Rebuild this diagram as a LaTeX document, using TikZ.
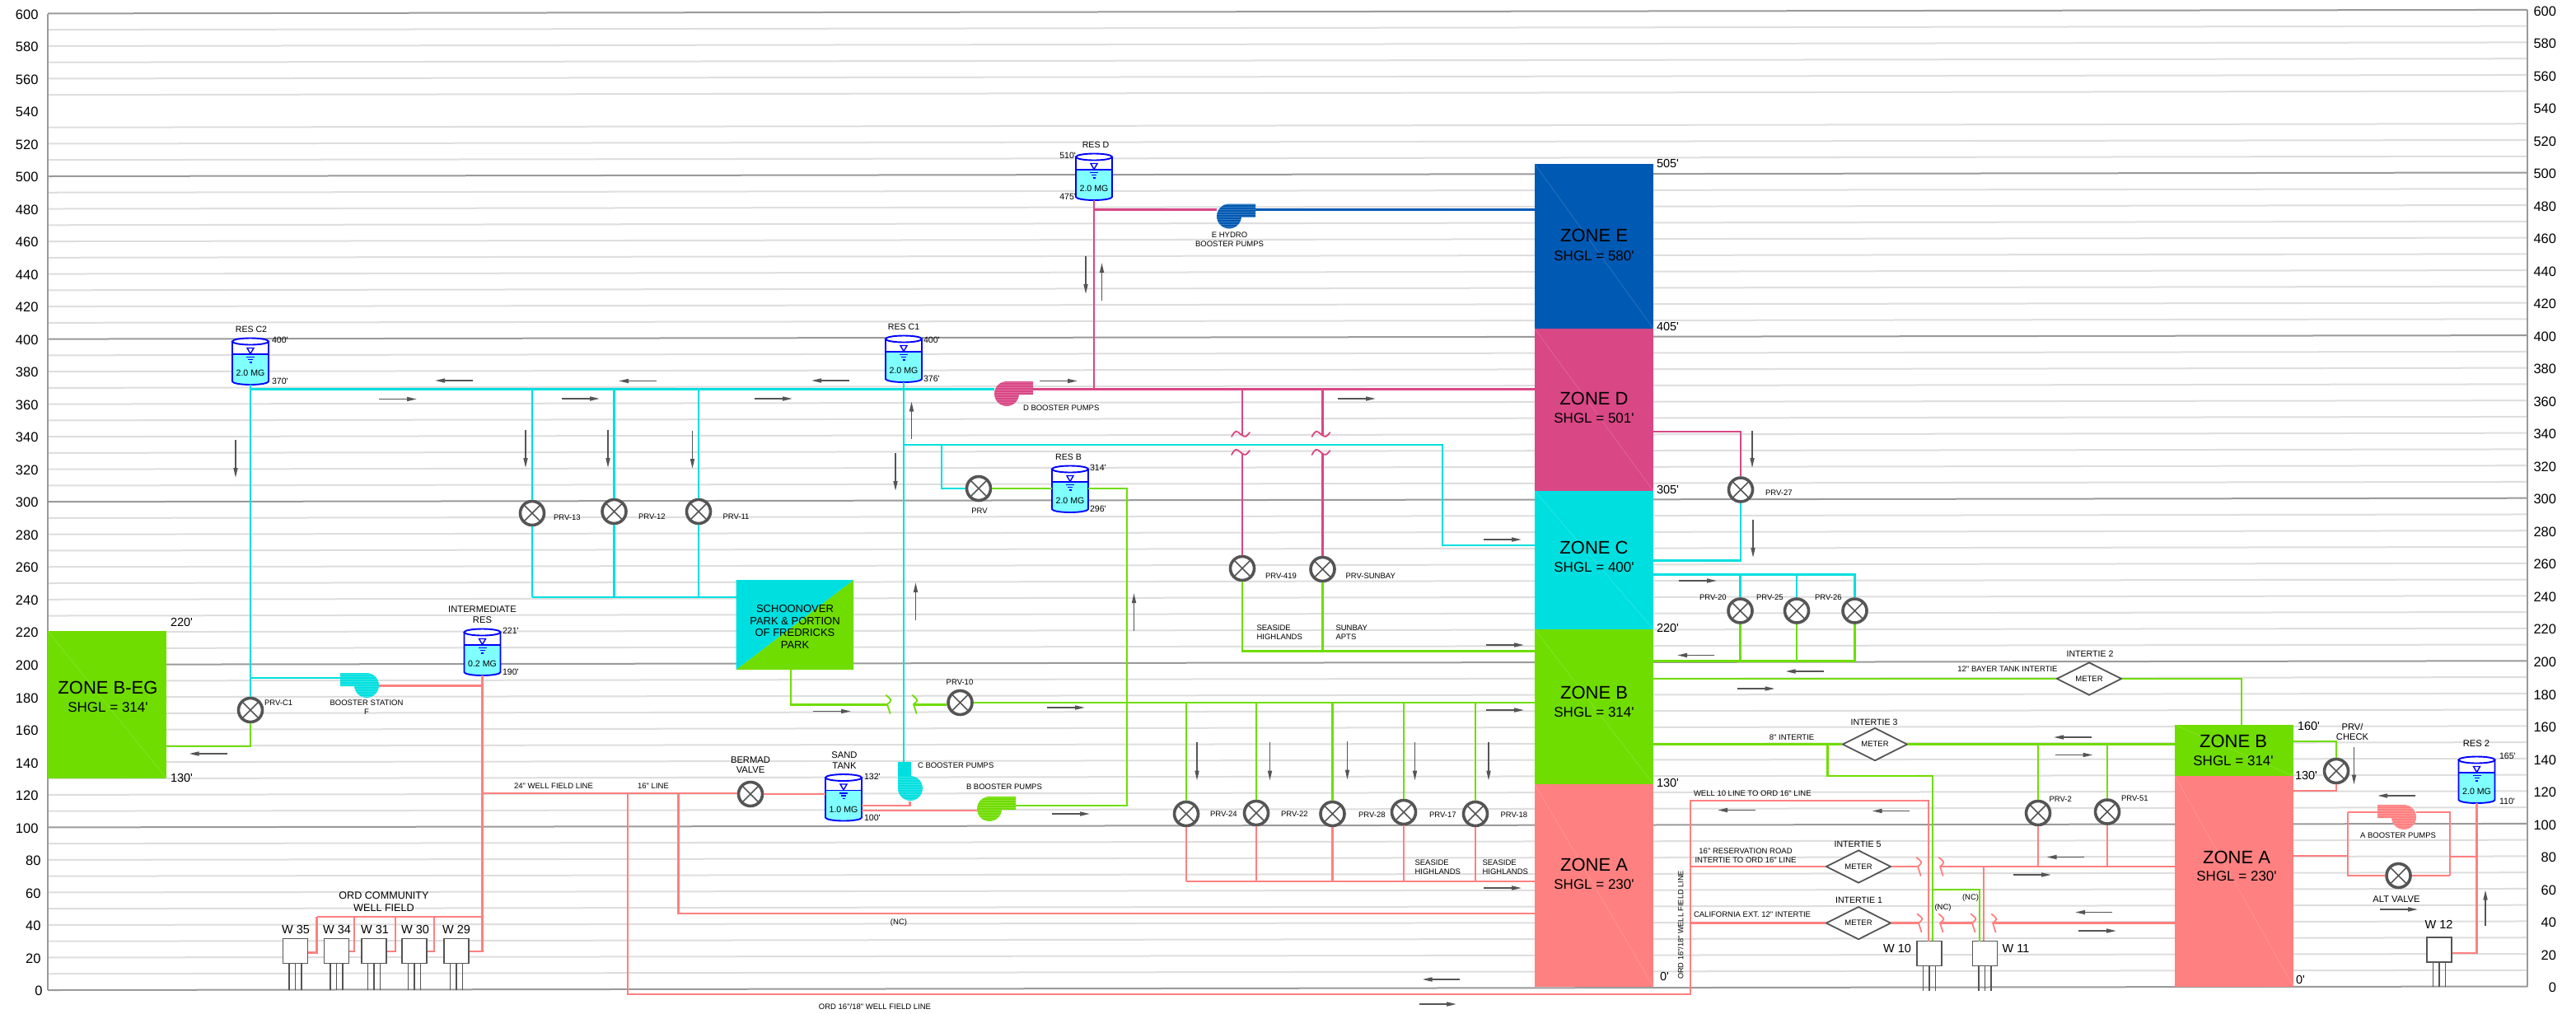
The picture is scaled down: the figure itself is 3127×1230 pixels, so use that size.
\documentclass[tikz,border=0pt]{standalone}
\usepackage{fontspec}
\setmainfont{Liberation Sans}
\usetikzlibrary{arrows.meta,shapes.geometric,fit}
\definecolor{cC}{HTML}{00DFDF}
\definecolor{cB}{HTML}{6FDD00}
\definecolor{cA}{HTML}{FF8080}
\definecolor{cD}{HTML}{D94785}
\definecolor{cE}{HTML}{0059B3}
\definecolor{gridL}{HTML}{DEDEDE}
\definecolor{gridD}{HTML}{9A9A9A}
\definecolor{gy}{HTML}{555555}
\definecolor{water}{HTML}{7FFFFF}
\newcommand\ft{\textquotesingle}
\newcommand\inch{\textquotedbl}
\newcounter{lc}
\tikzset{
  lbl/.style={inner sep=0pt,outer sep=0pt,text=black},
  sA/.style={font=\fontsize{9.5bp}{11bp}\selectfont},
  sB/.style={font=\fontsize{10.6bp}{12bp}\selectfont},
  sC/.style={font=\fontsize{11.2bp}{13bp}\selectfont},
  sD/.style={font=\fontsize{12.6bp}{14bp}\selectfont},
  sW/.style={font=\fontsize{14.5bp}{16bp}\selectfont},
  sE/.style={font=\fontsize{14.5bp}{16bp}\selectfont},
  sS/.style={font=\fontsize{17bp}{19bp}\selectfont},
  sZ/.style={font=\fontsize{22bp}{24bp}\selectfont},
  lw/.style={anchor=west},
  le/.style={anchor=east},
  pipe/.style={line width=2.3bp,line join=miter},
  pC/.style={pipe,draw=cC},
  pB/.style={pipe,draw=cB},
  pA/.style={pipe,draw=cA},
  pD/.style={pipe,draw=cD},
  pE/.style={pipe,draw=cE},
  flow/.style={draw=gy,line width=1.6bp,-{Triangle[length=12bp,width=5bp]}},
  valve/.style={circle,draw=gy,fill=white,line width=3.6bp,minimum size=29bp,inner sep=0pt,
    path picture={\draw[gy,line width=1.6bp] (path picture bounding box.north west)--(path picture bounding box.south east)
    (path picture bounding box.north east)--(path picture bounding box.south west);}},
  meter/.style={diamond,aspect=2,draw=gy,fill=white,line width=1.8bp,minimum width=79bp,minimum height=40bp,inner sep=0pt,
    font=\fontsize{9.5bp}{11bp}\selectfont},
  wellbox/.style={rectangle,draw=gy,fill=white,line width=1.6bp,minimum width=30bp,minimum height=30bp,inner sep=0pt},
  zone/.style={rectangle,inner sep=0pt,outer sep=0pt},
  brk/.style={line width=1.8bp,line cap=round}
}
\newcommand\lab[4][]{\stepcounter{lc}\node[lbl,#1] (lab\arabic{lc}) at (#2,#3) {#4};}
\newcommand\fl[4]{\draw[flow] (#1,#2) -- (#3,#4);}
\newcommand\mkWell[4]{% name cx top legbottom
  \draw[gy,line width=1.3bp] (#2-7.5,#3+29) -- (#2-7.5,#4) (#2,#3+29) -- (#2,#4) (#2+7.5,#3+29) -- (#2+7.5,#4);
  \node[wellbox] (#1) at (#2,#3+15) {};}
\newcommand\mkTank[4]{% name cx top text
  \begin{scope}[shift={(#2,#3)}]
  \path[fill=white] (-22,4.5) -- (-22,20) -- (22,20) -- (22,4.5) -- cycle;
  \path[fill=water] (-22,20) -- (-22,53) arc[x radius=22,y radius=4,start angle=180,end angle=0] -- (22,20) -- cycle;
  \draw[blue,line width=1.9bp] (-22,4.5) -- (-22,53) arc[x radius=22,y radius=4,start angle=180,end angle=0] -- (22,4.5);
  \draw[blue,line width=1.9bp,fill=white] (0,4.5) ellipse [x radius=22,y radius=4];
  \draw[blue,line width=1.9bp] (-22,20) -- (22,20);
  \draw[blue,line width=1.4bp] (-4,12.5) -- (4,12.5) -- (0,19.5) -- cycle;
  \draw[blue,line width=1.3bp] (-5,23.5) -- (5,23.5) (-3,26.5) -- (3,26.5) (-1.5,30) -- (1.5,30);
  \end{scope}
  \node[fit={(#2-22,#3)(#2+22,#3+57)},inner sep=0pt,outer sep=0pt] (#1) {};
  \lab[sB]{#2}{#3+43}{#4}}
\newcommand\pumpshape{(32,-15) -- (0,-15) arc[radius=15,start angle=270,end angle=0] -- (15,1) -- (32,1) -- cycle}
\newcommand\mkPump[9]{% name cx cy rot xs color bx1/by1 bx2/by2
  \begin{scope}[shift={(#2,#3)},rotate=#4,xscale=#5]
  \fill[#6] \pumpshape;
  \begin{scope}
  \clip \pumpshape;
  \foreach \s in {-14,-11,...,16} {\draw[white,opacity=.22,line width=.7bp,rotate=-#4] (-40,\s) -- (40,\s);}
  \end{scope}
  \end{scope}
  \node[fit={(#7)(#8)},inner sep=0pt,outer sep=0pt] (#9) {};}
\newcommand\brkH[3]{\draw[brk,#3] (#1-1.5,#2-11) .. controls (#1+6,#2-5) .. (#1,#2) .. controls (#1+1,#2+6) .. (#1+3.5,#2+11);}
\newcommand\brkV[3]{\draw[brk,#3] (#1-12,#2+2) .. controls (#1-7,#2-6) .. (#1,#2) .. controls (#1+5,#2+3) .. (#1+10,#2-3);}
\begin{document}
\begin{tikzpicture}[x=1bp,y=-1bp]
\useasboundingbox (0,0) rectangle (3127,1230);
\fill[white] (0,0) rectangle (3127,1230);
% ---------- elevation grid
\foreach \e in {0,10,...,600}{
  \pgfmathsetmacro\yy{1202-\e*1.976}
  \pgfmathsetmacro\hund{int(mod(\e,100))}
  \ifnum\e=540\else
  \ifnum\hund=0
    \draw[gridD,line width=2bp] (58,\yy) -- (3068,\yy-4.5);
  \else
    \draw[gridL,line width=2bp] (58,\yy) -- (3068,\yy-4.5);
  \fi\fi
}
\draw[gridD,line width=1.5bp] (58,16.5) -- (58,1202);
\draw[gridD,line width=1.5bp] (3068,12) -- (3068,1197.5);
\foreach \e in {0,20,...,600}{
  \pgfmathsetmacro\yy{1203-\e*1.976}
  \pgfmathsetmacro\yr{1199-\e*1.976}
  \pgfmathsetmacro\xl{\e<100?(\e<10?51.5:49.5):46.5}
  \stepcounter{lc}\node[lbl,sS,font=\fontsize{16.5bp}{18bp}\selectfont,anchor=east] (lab\arabic{lc}) at (\xl,\yy) {\e};
  \stepcounter{lc}\node[lbl,sS,font=\fontsize{16.5bp}{18bp}\selectfont,anchor=east] (lab\arabic{lc}) at (3103,\yr) {\e};
}
% ---------- zones
\node[zone,fill=cE,fit={(1863,199)(2007,399)}] (zoneE) {};
\node[zone,fill=cD,fit={(1863,399)(2007,596)}] (zoneD) {};
\node[zone,fill=cC,fit={(1863,596)(2007,764)}] (zoneC) {};
\node[zone,fill=cB,fit={(1863,764)(2007,952)}] (zoneB) {};
\node[zone,fill=cA,fit={(1863,952)(2007,1198)}] (zoneA) {};
\node[zone,fill=cB,fit={(58,766)(202,945)}] (zoneBEG) {};
\node[zone,fill=cB,fit={(2640,880)(2784,942)}] (zoneBr) {};
\node[zone,fill=cA,fit={(2640,942)(2784,1198)}] (zoneAr) {};
\foreach \n in {zoneE,zoneD,zoneC,zoneB,zoneA,zoneBEG,zoneBr,zoneAr}{
  \draw[white,opacity=.22,line width=.5bp] (\n.north west) -- (\n.south east);}
% schoonover
\node[zone,fit={(893.5,704)(1036,813)}] (schoon) {};
\fill[cB] (schoon.south west) -- (schoon.north east) -- (schoon.south east) -- cycle;
\fill[cC] (schoon.south west) -- (schoon.north east) -- (schoon.north west) -- cycle;
% ---------- equipment nodes
\mkTank{resCtwo}{304}{410}{2.0 MG}
\mkTank{resCone}{1097}{407}{2.0 MG}
\mkTank{resD}{1328}{186}{2.0 MG}
\mkTank{resB}{1299}{565}{2.0 MG}
\mkTank{intres}{585.5}{763}{0.2 MG}
\mkTank{sand}{1024}{939.5}{1.0 MG}
\mkTank{restwo}{3006.5}{918}{2.0 MG}
\mkPump{pumpF}{445}{832}{0}{-1}{cC}{413,817}{460,847}{pumpF}
\mkPump{pumpE}{1492}{262.5}{0}{1}{cE}{1477,247}{1524,278}{pumpE}
\mkPump{pumpD}{1222}{478}{0}{1}{cD}{1207,463}{1254,493}{pumpD}
\mkPump{pumpC}{1105}{957}{90}{1}{cC}{1090,925}{1120,973}{pumpC}
\mkPump{pumpB}{1201}{982}{0}{1}{cB}{1186,967}{1233,997}{pumpB}
\mkPump{pumpA}{2918}{992}{0}{-1}{cA}{2887,977}{2933,1007}{pumpA}
\node[valve] (prvCone) at (304,862) {};
\node[valve] (prvXIII) at (646,623) {};
\node[valve] (prvXII) at (745.5,621) {};
\node[valve] (prvXI) at (848,621) {};
\node[valve] (prvB) at (1188,593) {};
\node[valve] (prvCDXIX) at (1508,690) {};
\node[valve] (prvSun) at (1605.5,691) {};
\node[valve] (prvX) at (1165.5,853) {};
\node[valve] (prvXXIV) at (1440,988) {};
\node[valve] (prvXXII) at (1525,987) {};
\node[valve] (prvXXVIII) at (1617.5,988) {};
\node[valve] (prvXVII) at (1704,986) {};
\node[valve] (prvXVIII) at (1791,988) {};
\node[valve] (prvXXVII) at (2113,594.5) {};
\node[valve] (prvXX) at (2112.5,741.5) {};
\node[valve] (prvXXV) at (2181,741.5) {};
\node[valve] (prvXXVI) at (2251.5,741.5) {};
\node[valve] (prvII) at (2474,987) {};
\node[valve] (prvLI) at (2558,985.5) {};
\node[valve] (prvCk) at (2836,936) {};
\node[valve] (altv) at (2911.5,1063) {};
\node[valve] (bermad) at (911,964) {};
\node[meter] (mII) at (2536,824) {METER};
\node[meter] (mIII) at (2276,903.6) {METER};
\node[meter] (mV) at (2256,1052) {METER};
\node[meter] (mI) at (2256,1120.6) {METER};
\mkWell{wA}{358.5}{1139.5}{1202}
\mkWell{wB}{408.5}{1139.5}{1202}
\mkWell{wC}{454}{1139.5}{1202}
\mkWell{wD}{503}{1139.5}{1202}
\mkWell{wE}{554}{1139.5}{1202}
\mkWell{wX}{2342}{1142.5}{1203}
\mkWell{wY}{2409.5}{1142.5}{1203}
\mkWell{wZ}{2961}{1138}{1198}
% ---------- junction coordinates
\coordinate (mainC) at (304,472.5);
\coordinate (jF) at (304,823);
\coordinate (bl) at (646,725);
\coordinate (cr) at (1751,540);
\coordinate (cl) at (1097,540);
\coordinate (cp) at (1143,540);
\coordinate (cz) at (1751,662);
\coordinate (zcA) at (2113,680.6);
\coordinate (zdA) at (2113,524);
\coordinate (cT) at (2251.5,697.4);
\coordinate (gT) at (2251.5,802.6);
\coordinate (pu) at (1328,254.6);
\coordinate (bAu) at (1508,528);
\coordinate (bAl) at (1508,550);
\coordinate (bBu) at (1605.5,528);
\coordinate (bBl) at (1605.5,550);
\coordinate (gM) at (1508,790.6);
\coordinate (gR) at (1368,978);
\coordinate (gEG) at (304,906);
\coordinate (gSa) at (960,813);
\coordinate (gSb) at (960,855.5);
\coordinate (gSc) at (1078,855.5);
\coordinate (gSd) at (1110,855.5);
\coordinate (gTop) at (2721,880);
\coordinate (gIa) at (2218.5,903.6);
\coordinate (gIb) at (2346,942);
\coordinate (gIc) at (2346,1080);
\coordinate (gId) at (2403,1142.5);
\coordinate (gCk) at (2836,900);
\coordinate (aCk) at (2836,960);
\coordinate (aF) at (460,832.5);
\coordinate (aW) at (585.5,1155);
\coordinate (aWt) at (585.5,1113);
\coordinate (aWa) at (384.5,1113);
\coordinate (aWb) at (430,1113);
\coordinate (aWc) at (480,1113);
\coordinate (aWd) at (527,1113);
\coordinate (aWs) at (384.5,1156.6);
\coordinate (aL) at (585.5,963);
\coordinate (aN) at (823.4,963);
\coordinate (aNb) at (823.4,1109);
\coordinate (aO) at (762,963);
\coordinate (aOb) at (762,1207);
\coordinate (aOc) at (2052,1207);
\coordinate (aOd) at (2052,972);
\coordinate (aOe) at (2341,1142.5);
\coordinate (aS) at (1104.5,978);
\coordinate (aSb) at (1045,984);
\coordinate (aV) at (1863,1070);
\coordinate (aRa) at (2052,1052);
\coordinate (aRb) at (2328,1052);
\coordinate (aRc) at (2355,1052);
\coordinate (aRd) at (2408,1052);
\coordinate (aCa) at (2052,1120.6);
\coordinate (aCb) at (2329,1120.6);
\coordinate (aCc) at (2355,1120.6);
\coordinate (aCd) at (2394,1120.6);
\coordinate (aCe) at (2419,1120.6);
\coordinate (aBa) at (2850,1039);
\coordinate (aBb) at (2850,986);
\coordinate (aBc) at (2850,1063);
\coordinate (aBd) at (2974,1063);
\coordinate (aBe) at (2974,1040);
\coordinate (aBf) at (3006.5,1040);
\coordinate (aBg) at (3006.5,1157);
% ---------- cyan pipes
\draw[pC] (resCtwo.south) -- (prvCone.north);
\draw[pC] (mainC) -- (pumpD.west |- mainC);
\draw[pC] (jF) -- (pumpF.west |- jF);
\foreach \v in {prvXIII,prvXII,prvXI}{
  \draw[pC] (\v.north |- mainC) -- (\v.north);
  \draw[pC] (\v.south) -- (\v.south |- bl);}
\draw[pC] (bl) -- (schoon.west |- bl);
\draw[pC] (resCone.south) -- (resCone.south |- pumpC.north);
\draw[pC] (cl) -- (cr) -- (cz) -- (zoneC.west |- cz);
\draw[pC] (cp) |- (prvB.west);
\draw[pC] (zoneC.east |- zcA) -- (zcA) -- (prvXXVII.south);
\draw[pC] (zoneC.east |- cT) -- (cT) -- (prvXXVI.north);
\draw[pC] (prvXX.north |- cT) -- (prvXX.north);
\draw[pC] (prvXXV.north |- cT) -- (prvXXV.north);
% ---------- pink pipes
\draw[pD] (pumpD.east |- mainC) -- (zoneD.west |- mainC);
\draw[pD] (resD.south) -- (resD.south |- mainC);
\draw[pD] (pu) -- (pumpE.west |- pu);
\draw[pD] (prvCDXIX.north |- mainC) -- (bAu);
\draw[pD] (bAl) -- (prvCDXIX.north);
\draw[pD] (prvSun.north |- mainC) -- (bBu);
\draw[pD] (bBl) -- (prvSun.north);
\brkV{1507}{528}{cD}\brkV{1507}{550}{cD}
\brkV{1604.5}{528}{cD}\brkV{1604.5}{550}{cD}
\draw[pD] (zoneD.east |- zdA) -- (zdA) -- (prvXXVII.north);
% ---------- blue pipe
\draw[pE] (pumpE.east |- pu) -- (zoneE.west |- pu);
% ---------- green pipes
\draw[pB] (prvCone.south) -- (gEG) -- (zoneBEG.east |- gEG);
\draw[pB] (gSa) -- (gSb) -- (gSc);
\draw[pB] (gSd) -- (prvX.west |- gSd);
\brkH{1077}{855}{cB}\brkH{1109}{855}{cB}
\draw[pB] (prvX.east) -- (zoneB.west |- prvX);
\draw[pB] (prvB.east) -- (resB.west |- prvB);
\draw[pB] (resB.east |- prvB) -| (gR) -- (pumpB.east |- gR);
\draw[pB] (prvCDXIX.south) -- (gM) -- (zoneB.west |- gM);
\draw[pB] (prvSun.south) -- (prvSun.south |- gM);
\foreach \v in {prvXXIV,prvXXII,prvXXVIII,prvXVII,prvXVIII}{
  \draw[pB] (\v.north |- prvX) -- (\v.north);
  \draw[pA] (\v.south) -- (\v.south |- aV);}
\draw[pA] (prvXXIV.south |- aV) -- (aV);
\draw[pB] (prvXXVI.south) -- (gT) -- (zoneB.east |- gT);
\draw[pB] (prvXX.south) -- (prvXX.south |- gT);
\draw[pB] (prvXXV.south) -- (prvXXV.south |- gT);
\draw[pB] (zoneB.east |- mII) -- (mII.west);
\draw[pB] (mII.east) -| (gTop);
\draw[pB] (zoneB.east |- mIII) -- (mIII.west);
\draw[pB] (mIII.east) -- (zoneBr.west |- mIII);
\draw[pA] (aOe) -- (aOe |- aOd) -- (aOd) -- (aOc) -- (aOb) -- (aO);
\draw[pB] (gIa) |- (gIb) -- (gIb |- wX.north);
\draw[pB] (gIc) -| (gId);
\draw[pB] (prvII.north |- mIII) -- (prvII.north);
\draw[pB] (prvLI.north |- mIII) -- (prvLI.north);
\draw[pB] (zoneBr.east |- gCk) -- (gCk) -- (prvCk.north);
% ---------- salmon pipes
\draw[pA] (prvCk.south) -- (aCk) -- (zoneAr.east |- aCk);
\draw[pA] (pumpF.east |- aF) -- (intres.south |- aF);
\draw[pA] (intres.south) -- (aW) -- (wE.east |- aW);
\draw[pA] (aWa) -- (aWt);
\draw[pA] (wA.east |- aWs) -| (aWa);
\draw[pA] (wB.east |- aW) -| (aWb);
\draw[pA] (wC.east |- aW) -| (aWc);
\draw[pA] (wD.east |- aW) -| (aWd);
\draw[pA] (aL) -- (bermad.west |- aL);
\draw[pA] (bermad.east) -- (sand.west |- bermad);
\draw[pA] (aN) -- (aNb) -- (zoneA.west |- aNb);
\draw[pA] (sand.east |- aS) -- (aS) -- (aS |- pumpC.south);
\draw[pA] (sand.east |- aSb) -- (pumpB.west |- aSb);
\draw[pA] (aRa) -- (mV.west);
\draw[pA] (mV.east) -- (aRb);
\draw[pA] (aRc) -- (zoneAr.west |- aRc);
\draw[pA] (aRd) -- (aRd |- wY.north);
\brkH{2328}{1052}{cA}\brkH{2355}{1052}{cA}
\draw[pA] (aCa) -- (mI.west);
\draw[pA] (mI.east) -- (aCb);
\draw[pA] (aCc) -- (aCd);
\draw[pA] (aCe) -- (zoneAr.west |- aCe);
\brkH{2329}{1120.6}{cA}\brkH{2355}{1120.6}{cA}
\brkH{2394}{1120.6}{cA}\brkH{2419}{1120.6}{cA}
\draw[pA] (prvII.south) -- (prvII.south |- aRa);
\draw[pA] (prvLI.south) -- (prvLI.south |- aRa);
\draw[pA] (zoneAr.east |- aBa) -- (aBa);
\draw[pA] (aBb) -- (aBc) -- (altv.west);
\draw[pA] (altv.east) -- (aBd);
\draw[pA] (aBb) -- (pumpA.west |- aBb);
\draw[pA] (pumpA.east |- aBb) -| (aBd);
\draw[pA] (aBe) -- (aBf);
\draw[pA] (restwo.south) -- (aBg) -- (wZ.east |- aBg);
% ---------- flow arrows
\fl{574}{462}{528}{462}\fl{797}{462.5}{751}{462.5}\fl{1031}{462}{985}{462}
\fl{460}{484.5}{506}{484.5}\fl{682}{484}{728}{484}\fl{916}{484}{962}{484}
\fl{286}{534}{286}{580}\fl{638}{522}{638}{568}\fl{738}{522}{738}{568}\fl{840.5}{523}{840.5}{569}
\fl{275.5}{915}{229.5}{915}\fl{987}{863.5}{1033}{863.5}
\fl{1262}{462.5}{1308}{462.5}\fl{1318}{311}{1318}{357}\fl{1337.5}{365}{1337.5}{319}
\fl{1624}{484}{1670}{484}\fl{1106.5}{533}{1106.5}{487.5}\fl{1087}{550}{1087}{596}
\fl{1801}{655}{1847}{655}\fl{1111.5}{753}{1111.5}{707}\fl{1376.5}{766}{1376.5}{720}
\fl{1804}{783}{1850}{783}\fl{1271}{859}{1317}{859}\fl{1804}{862}{1850}{862}\fl{1277}{988}{1323}{988}
\fl{1453}{901}{1453}{947.5}\fl{1541.5}{901}{1541.5}{947.5}\fl{1635.5}{900}{1635.5}{946.5}
\fl{1717.5}{901}{1717.5}{947.5}\fl{1807}{901}{1807}{947.5}
\fl{1801}{1078}{1847}{1078}\fl{1771.5}{1189}{1726.5}{1189}\fl{1722.5}{1219}{1768}{1219}
\fl{2038}{705}{2084}{705}\fl{2081}{795.5}{2036}{795.5}
\fl{2127}{523}{2127}{568}\fl{2128}{631}{2128}{677}
\fl{2213.5}{815}{2167.5}{815}\fl{2108.5}{836}{2154.5}{836}
\fl{2538.5}{895}{2493}{895}\fl{2494.5}{916.5}{2540.5}{916.5}
\fl{2857.5}{907}{2857.5}{952.5}\fl{2932}{966}{2886}{966}
\fl{2131}{983.5}{2085}{983.5}\fl{2318}{984.5}{2272.5}{984.5}
\fl{2530}{1040.5}{2484.5}{1040.5}\fl{2444}{1062}{2490}{1062}
\fl{2564}{1107.5}{2519}{1107.5}\fl{2523}{1130}{2569}{1130}
\fl{2889}{1104}{2935}{1104}\fl{3017}{1124}{3017}{1080.5}
% ---------- zone labels
\lab[sZ]{1935}{286}{ZONE E}\lab[sS]{1935}{311}{SHGL = 580\ft}
\lab[sZ]{1935}{484}{ZONE D}\lab[sS]{1935}{508}{SHGL = 501\ft}
\lab[sZ]{1935}{665}{ZONE C}\lab[sS]{1935}{689}{SHGL = 400\ft}
\lab[sZ]{1935}{841}{ZONE B}\lab[sS]{1935}{865}{SHGL = 314\ft}
\lab[sZ]{1935}{1050}{ZONE A}\lab[sS]{1935}{1074}{SHGL = 230\ft}
\lab[sZ]{131}{835}{ZONE B-EG}\lab[sS]{131}{858.5}{SHGL = 314\ft}
\lab[sZ]{2711}{900}{ZONE B}\lab[sS]{2711}{924}{SHGL = 314\ft}
\lab[sZ]{2715}{1041}{ZONE A}\lab[sS]{2715}{1064}{SHGL = 230\ft}
\lab[sE,lw]{2011}{199}{505\ft}\lab[sE,lw]{2011}{396}{405\ft}\lab[sE,lw]{2011}{594}{305\ft}
\lab[sE,lw]{2011}{762}{220\ft}\lab[sE,lw]{2011}{950}{130\ft}\lab[sE,lw]{2015}{1185}{0\ft}
\lab[sE,lw]{207}{755}{220\ft}\lab[sE,lw]{207}{944}{130\ft}
\lab[sE,lw]{2789}{881}{160\ft}\lab[sE,lw]{2786}{941}{130\ft}\lab[sE,lw]{2787}{1189}{0\ft}
% schoonover text
\lab[sD,font=\fontsize{13bp}{15bp}\selectfont]{965}{739}{SCHOONOVER}
\lab[sD,font=\fontsize{13bp}{15bp}\selectfont]{965}{754}{PARK \& PORTION}
\lab[sD,font=\fontsize{13bp}{15bp}\selectfont]{965}{768.5}{OF FREDRICKS}
\lab[sD,font=\fontsize{13bp}{15bp}\selectfont]{965}{783}{PARK}
% tank labels
\lab[sB]{305}{400}{RES C2}\lab[sB,lw]{330}{413}{400\ft}\lab[sB,lw]{330}{463}{370\ft}
\lab[sB]{1097}{397}{RES C1}\lab[sB,lw]{1121}{413}{400\ft}\lab[sB,lw]{1121}{460}{376\ft}
\lab[sB]{1330}{176}{RES D}\lab[sB,le]{1306}{189}{510\ft}\lab[sB,le]{1306}{239}{475\ft}
\lab[sB]{1297}{555}{RES B}\lab[sB,lw]{1323}{568}{314\ft}\lab[sB,lw]{1323}{618}{296\ft}
\lab[sC]{585.5}{740}{INTERMEDIATE}\lab[sC]{585.5}{753}{RES}
\lab[sB,lw]{610}{766}{221\ft}\lab[sB,lw]{610}{816}{190\ft}
\lab[sC]{1025}{917}{SAND}\lab[sC]{1025}{930}{TANK}
\lab[sB,lw]{1049}{943}{132\ft}\lab[sB,lw]{1049}{993}{100\ft}
\lab[sC]{3006}{903}{RES 2}\lab[sB,lw]{3034}{918}{165\ft}\lab[sB,lw]{3034}{973}{110\ft}
\lab[sC]{911}{923}{BERMAD}\lab[sC]{911}{935}{VALVE}
% pump labels
\lab[sA]{445}{853.5}{BOOSTER STATION}\lab[sA]{445}{864}{F}
\lab[sA]{1492.5}{285}{E HYDRO}\lab[sA]{1492.5}{296}{BOOSTER PUMPS}
\lab[sA,lw]{1242}{495}{D BOOSTER PUMPS}
\lab[sA,lw]{1114}{929}{C BOOSTER PUMPS}
\lab[sA,lw]{1173}{955}{B BOOSTER PUMPS}
\lab[sA]{2911}{1014.5}{A BOOSTER PUMPS}
% valve labels
\lab[sA,lw]{321}{853}{PRV-C1}
\lab[sA,lw]{672}{628.5}{PRV-13}\lab[sA,lw]{775}{627}{PRV-12}\lab[sA,lw]{877.5}{627}{PRV-11}
\lab[sA]{1189}{620}{PRV}
\lab[sA,lw]{1536}{699}{PRV-419}\lab[sA,lw]{1633.5}{699}{PRV-SUNBAY}
\lab[sA]{1165}{828}{PRV-10}
\lab[sA,lw]{1469}{988}{PRV-24}\lab[sA,lw]{1555}{988}{PRV-22}\lab[sA,lw]{1649}{989}{PRV-28}
\lab[sA,lw]{1735}{989}{PRV-17}\lab[sA,lw]{1821.5}{989}{PRV-18}
\lab[sA,lw]{2143}{598}{PRV-27}
\lab[sA,lw]{2063}{725}{PRV-20}\lab[sA,lw]{2132}{725}{PRV-25}\lab[sA,lw]{2203}{725}{PRV-26}
\lab[sA,lw]{2487.5}{970.5}{PRV-2}\lab[sA,lw]{2575}{969}{PRV-51}
\lab[sC]{2855.5}{882}{PRV/}\lab[sC]{2855.5}{895}{CHECK}
\lab[sC]{2909}{1092}{ALT VALVE}
% other labels
\lab[sA]{672}{954.5}{24\inch{} WELL FIELD LINE}\lab[sA]{793}{954}{16\inch{} LINE}
\lab[sD]{466}{1087}{ORD COMMUNITY}\lab[sD]{466}{1102}{WELL FIELD}
\lab[sW]{359}{1128.5}{W 35}\lab[sW]{409}{1128.5}{W 34}\lab[sW]{455}{1128.5}{W 31}
\lab[sW]{504}{1128.5}{W 30}\lab[sW]{554}{1128.5}{W 29}
\lab[sW]{2303}{1151}{W 10}\lab[sW]{2447}{1151}{W 11}\lab[sW]{2960.5}{1122.5}{W 12}
\lab[sA,lw]{1525.5}{762.5}{SEASIDE}\lab[sA,lw]{1525.5}{773.5}{HIGHLANDS}
\lab[sA,lw]{1621.5}{762.5}{SUNBAY}\lab[sA,lw]{1621.5}{773.5}{APTS}
\lab[sA,lw]{1717.5}{1047.5}{SEASIDE}\lab[sA,lw]{1717.5}{1058.5}{HIGHLANDS}
\lab[sA,lw]{1799.5}{1047.5}{SEASIDE}\lab[sA,lw]{1799.5}{1058.5}{HIGHLANDS}
\lab[sA]{1091}{1120}{(NC)}\lab[sA]{2358.5}{1102}{(NC)}\lab[sA]{2392}{1090}{(NC)}
\lab[sA]{1062}{1222}{ORD 16\inch/18\inch{} WELL FIELD LINE}
\lab[sA,rotate=90,font=\fontsize{9.2bp}{11bp}\selectfont]{2040}{1123}{ORD 16\inch/18\inch{} WELL FIELD LINE}
\lab[sA,le]{2497.5}{812}{12\inch{} BAYER TANK INTERTIE}
\lab[sB]{2537}{794}{INTERTIE 2}
\lab[sB]{2275}{877}{INTERTIE 3}
\lab[sA]{2175}{895}{8\inch{} INTERTIE}
\lab[sB]{2255}{1025}{INTERTIE 5}
\lab[sB]{2256.5}{1092.5}{INTERTIE 1}
\lab[sA]{2119}{1033}{16\inch{} RESERVATION ROAD}
\lab[sA]{2119}{1044}{INTERTIE TO ORD 16\inch{} LINE}
\lab[sA,lw]{2056}{1110}{CALIFORNIA EXT. 12\inch{} INTERTIE}
\lab[sA,lw]{2056}{963}{WELL 10 LINE TO ORD 16\inch{} LINE}
\end{tikzpicture}
\end{document}
